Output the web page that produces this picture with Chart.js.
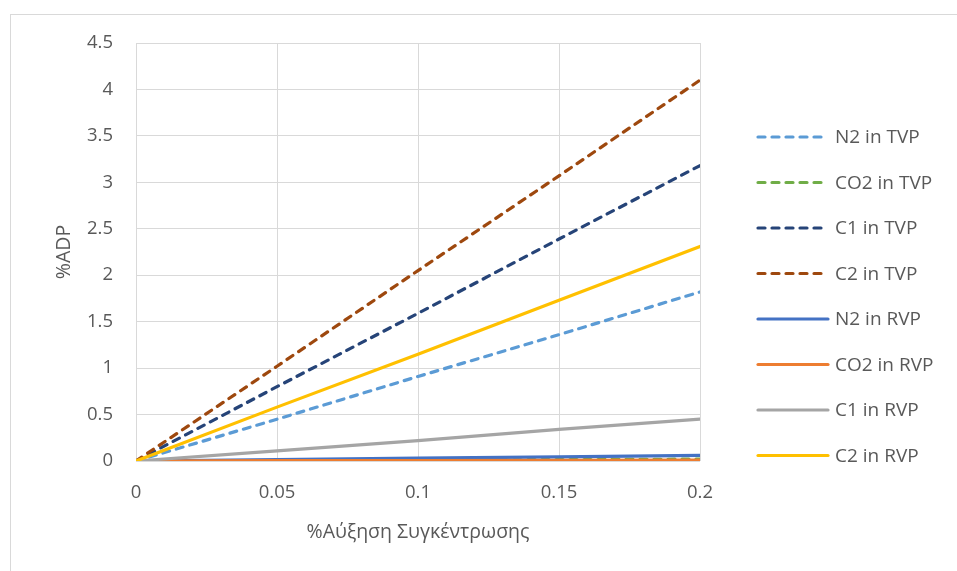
<!DOCTYPE html>
<html>
<head>
<meta charset="utf-8">
<script src="https://cdn.jsdelivr.net/npm/chart.js@4"></script>
<style>
  html, body { margin: 0; padding: 0; background: #fff; overflow: hidden; }
  #frame { position: absolute; left: 10px; top: 14px; width: 1000px; height: 600px; border: 1px solid #d9d9d9; }
  #wrap { position: absolute; left: 0; top: 0; width: 957px; height: 571px; }
</style>
</head>
<body>
<div id="frame"></div>
<div id="wrap"><canvas id="chart"></canvas></div>
<script>
  // === DATA ===
  const xValues = [0, 0.05, 0.1, 0.15, 0.2];
  const seriesNames = ['N2 in TVP', 'CO2 in TVP', 'C1 in TVP', 'C2 in TVP', 'N2 in RVP', 'CO2 in RVP', 'C1 in RVP', 'C2 in RVP'];
  const n2Tvp = [0, 0.45, 0.91, 1.36, 1.82];
  const co2Tvp = [0, 0.005, 0.01, 0.015, 0.02];
  const c1Tvp = [0, 0.8, 1.59, 2.39, 3.18];
  const c2Tvp = [0, 1.02, 2.05, 3.07, 4.1];
  const n2Rvp = [0, 0.015, 0.03, 0.045, 0.06];
  const co2Rvp = [0, 0.003, 0.005, 0.008, 0.01];
  const c1Rvp = [0, 0.11, 0.22, 0.34, 0.45];
  const c2Rvp = [0, 0.58, 1.15, 1.73, 2.31];
  const xTickLabels = ['0', '0.05', '0.1', '0.15', '0.2'];
  const yTickLabels = ['0', '0.5', '1', '1.5', '2', '2.5', '3', '3.5', '4', '4.5'];

  const seriesValues = [n2Tvp, co2Tvp, c1Tvp, c2Tvp, n2Rvp, co2Rvp, c1Rvp, c2Rvp];
  const colors = ['#5B9BD5', '#70AD47', '#264478', '#9E480E', '#4472C4', '#ED7D31', '#A5A5A5', '#FFC000'];
  const dashed = [true, true, true, true, false, false, false, false];

  const FONT = '"Open Sans", "Noto Sans", sans-serif';
  const TEXT = '#595959';
  const DASH = [7, 7];

  const datasets = seriesValues.map(function(vals, i) {
    return {
      label: seriesNames[i],
      data: vals.map(function(v, j) { return { x: xValues[j], y: v }; }),
      borderColor: colors[i],
      backgroundColor: colors[i],
      borderWidth: 3.2,
      borderDash: dashed[i] ? DASH : [],
      borderCapStyle: 'round',
      pointRadius: 0,
      tension: 0,
      order: -i
    };
  });

  // === CUSTOM LEGEND ===
  const legendPlugin = {
    id: 'sideLegend',
    afterDraw: function(chart) {
      const ctx = chart.ctx;
      const x0 = chart.chartArea.right + 58;
      ctx.save();
      ctx.font = '19px ' + FONT;
      ctx.textBaseline = 'middle';
      ctx.fillStyle = TEXT;
      seriesNames.forEach(function(name, i) {
        const y = 137 + i * 45.5;
        ctx.beginPath();
        ctx.strokeStyle = colors[i];
        ctx.lineWidth = 3.2;
        ctx.lineCap = 'round';
        ctx.setLineDash(dashed[i] ? DASH : []);
        ctx.moveTo(x0, y);
        ctx.lineTo(x0 + 70, y);
        ctx.stroke();
        ctx.setLineDash([]);
        ctx.fillText(name, x0 + 77, y + 1);
      });
      ctx.restore();
    }
  };

  new Chart(document.getElementById('chart'), {
    type: 'line',
    data: { datasets: datasets },
    plugins: [legendPlugin],
    options: {
      responsive: true,
      maintainAspectRatio: false,
      animation: false,
      layout: { padding: { left: 0, top: 43, right: 257, bottom: 0 } },
      plugins: { legend: { display: false }, tooltip: { enabled: false } },
      scales: {
        x: {
          type: 'linear',
          min: 0,
          max: 0.2,
          afterFit: function(scale) { scale.height = 110; },
          grid: { color: '#d9d9d9', lineWidth: 1, drawTicks: false },
          border: { display: false },
          ticks: {
            stepSize: 0.05,
            padding: 21,
            color: TEXT,
            font: { family: FONT, size: 18.5 },
            callback: function(v, idx) { return xTickLabels[idx]; }
          },
          title: {
            display: true,
            text: '%Αύξηση Συγκέντρωσης',
            color: TEXT,
            font: { family: FONT, size: 19.5 },
            padding: { top: 0, bottom: 27 }
          }
        },
        y: {
          min: 0,
          max: 4.5,
          afterFit: function(scale) { scale.width = 136; },
          grid: { color: '#d9d9d9', lineWidth: 1, drawTicks: false },
          border: { display: false },
          ticks: {
            stepSize: 0.5,
            padding: 23,
            color: TEXT,
            font: { family: FONT, size: 18.5 },
            callback: function(v, idx) { return yTickLabels[idx]; }
          },
          title: {
            display: true,
            text: '%ADP',
            color: TEXT,
            font: { family: FONT, size: 19.5 },
            padding: { top: 53, bottom: 0 }
          }
        }
      }
    }
  });
</script>
</body>
</html>
